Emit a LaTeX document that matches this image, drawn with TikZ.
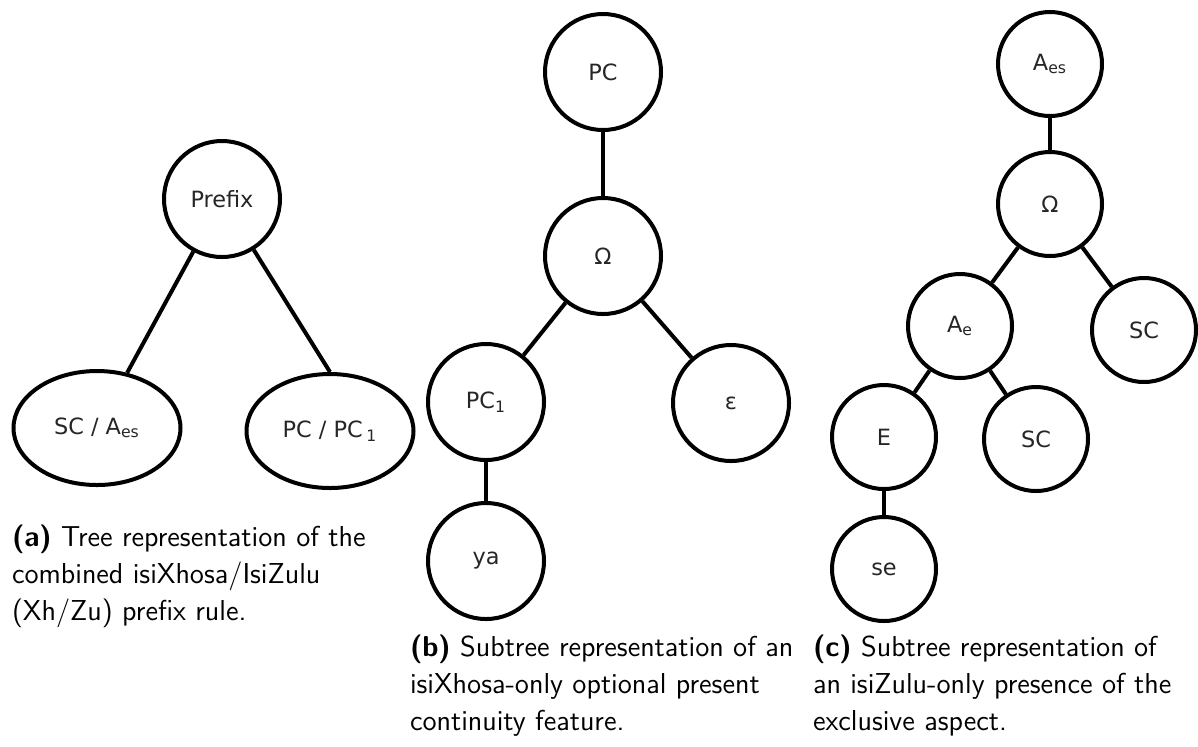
\documentclass[tikz,border=0pt]{standalone}
\usepackage{fontspec}
\newfontfamily\treefont{DejaVu Sans}
\usetikzlibrary{positioning, shapes.geometric}

\begin{document}
\begin{tikzpicture}[x=0.5pt, y=-0.5pt, line width=2pt,
  tnode/.style={circle, draw, line width=2pt, inner sep=0pt, on grid, text=black!85,
    font=\treefont\fontsize{11.2}{13}\selectfont},
  bignode/.style={tnode, minimum size=58pt},
  smallnode/.style={tnode, minimum size=52pt},
  oval/.style={tnode, ellipse, minimum width=83.5pt, minimum height=57pt},
  caption/.style={anchor=north west, align=left, inner sep=0pt,
    font=\sffamily\fontsize{14.4}{18.5}\selectfont}]

\useasboundingbox (0,0) rectangle (1198,746);

% (a) prefix rule
\node[bignode] (prefix) at (222,199) {Prefix};
\node[oval, below left=114.5pt and 62.5pt of prefix] (scaes) {SC / A\textsubscript{es}};
\node[oval, below right=116pt and 54pt of prefix] (pcpc) {PC / PC\,\textsubscript{1}};

\draw (prefix) -- (scaes);
\draw (prefix) -- (pcpc.north);

% (b) present continuity subtree
\node[bignode] (pc) at (603,72) {PC};
\node[bignode, below=92pt of pc] (omegab) {Ω};
\node[bignode, below left=73pt and 58.5pt of omegab] (pcone) {PC\textsubscript{1}};
\node[bignode, below right=73.5pt and 64pt of omegab] (eps) {ε};
\node[bignode, below=79.5pt of pcone] (ya) {ya};

\draw (pc) -- (omegab);
\draw (omegab) -- (pcone);
\draw (omegab) -- (eps);
\draw (pcone) -- (ya);

% (c) exclusive aspect subtree
\node[smallnode] (aes) at (1050,64) {A\textsubscript{es}};
\node[smallnode, below=70pt of aes] (omegac) {Ω};
\node[smallnode, below left=61pt and 45pt of omegac] (ae) {A\textsubscript{e}};
\node[smallnode, below right=63pt and 47pt of omegac] (scright) {SC};
\node[smallnode, below left=55.5pt and 38pt of ae] (e) {E};
\node[smallnode, below right=56.5pt and 38pt of ae] (scmid) {SC};
\node[smallnode, below=66pt of e] (se) {se};

\draw (aes) -- (omegac);
\draw (omegac) -- (ae);
\draw (omegac) -- (scright);
\draw (ae) -- (e);
\draw (ae) -- (scmid);
\draw (e) -- (se);

% Captions
\node[caption] (capa) at (10,523) {\textbf{(a)} Tree representation of the\\combined isiXhosa/IsiZulu\\(Xh/Zu) prefix rule.};
\node[caption] (capb) at (408,633) {\textbf{(b)} Subtree representation of an\\isiXhosa-only optional present\\continuity feature.};
\node[caption] (capc) at (811,633) {\textbf{(c)} Subtree representation of\\an isiZulu-only presence of the\\exclusive aspect.};

\end{tikzpicture}
\end{document}
